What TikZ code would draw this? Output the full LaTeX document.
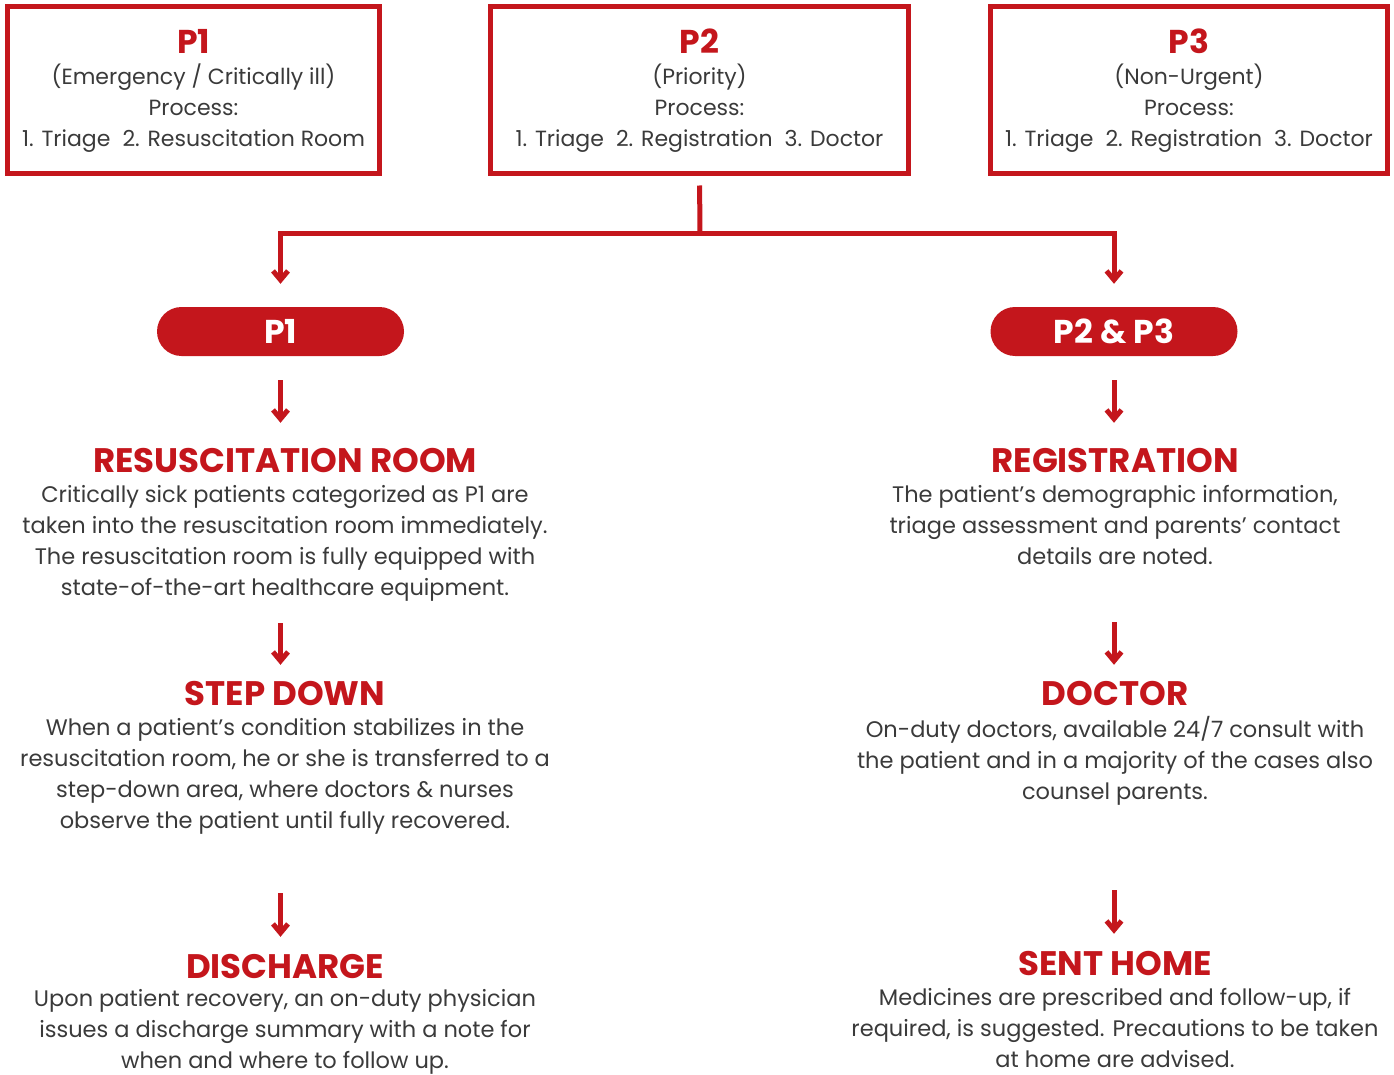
\documentclass[tikz,border=0pt]{standalone}
\usepackage{fontspec}
\setmainfont{Poppins}
\usetikzlibrary{arrows.meta}
\definecolor{brand}{HTML}{C4161C}
\definecolor{ink}{HTML}{3A3A3A}
\newcommand{\gap}{\hspace{0.55em}}
\newcommand{\lead}{\rule{0pt}{18pt}}
\newcommand{\boxtitle}[1]{{\bfseries\color{brand}\fontsize{33}{37}\selectfont #1}}
\begin{document}
\begin{tikzpicture}[x=1pt,y=-1pt,
  catbox/.style={draw=brand, line width=5pt, minimum width=#1, minimum height=167pt,
    inner sep=0pt, align=center, text=ink, font=\fontsize{22}{31}\selectfont},
  pill/.style={fill=brand, rounded corners=24.5pt, minimum width=247pt, minimum height=49pt,
    inner sep=0pt, text=white, font=\bfseries\fontsize{33}{33}\selectfont},
  head/.style={text=brand, font=\bfseries\fontsize{34}{34}\selectfont, inner sep=0pt,
    text height=23pt, text depth=0pt, anchor=base},
  body/.style={text=ink, align=center, font=\fontsize{22.5}{31}\selectfont, inner sep=0pt, anchor=north},
  link/.style={draw=brand, line width=5pt},
  flow/.style={draw=brand, line width=5pt, -{Straight Barb[length=9pt,width=15pt]}}
]
\useasboundingbox (0,0) rectangle (1394,1075);

% triage categories
\node[catbox=372pt] (p1) at (193.5,90.5) {\boxtitle{P1}\\(Emergency / Critically ill)\\Process:\\1. Triage\gap 2. Resuscitation Room};
\node[catbox=418pt] (p2) at (699.5,90.5) {\boxtitle{P2}\\(Priority)\\Process:\\1. Triage\gap 2. Registration\gap 3. Doctor};
\node[catbox=397pt] (p3) at (1189,90.5) {\boxtitle{P3}\\(Non-Urgent)\\Process:\\1. Triage\gap 2. Registration\gap 3. Doctor};

% pathway labels
\node[pill] (pl) at (280.5,331.5) {P1};
\node[pill] (pr) at (1114,331.5) {P2 \& P3};

% split from the category row
\coordinate (split) at (700,234);
\draw[link, shorten <=9pt] (p2.south) -- (split);
\draw[flow, shorten >=23pt] (split) -| (pl.north);
\draw[flow, shorten >=23pt] (split) -| (pr.north);

% left pathway
\node[head] (hres) at (285,472) {RESUSCITATION ROOM};
\node[body] (bres) at (285,484.5) {\lead Critically sick patients categorized as P1 are\\taken into the resuscitation room immediately.\\The resuscitation room is fully equipped with\\state-of-the-art healthcare equipment.};
\node[head] (hstep) at (285,705) {STEP DOWN};
\node[body] (bstep) at (285,717.5) {\lead When a patient’s condition stabilizes in the\\resuscitation room, he or she is transferred to a\\step-down area, where doctors \& nurses\\observe the patient until fully recovered.};
\node[head] (hdis) at (285,978) {DISCHARGE};
\node[body] (bdis) at (285,988.5) {\lead Upon patient recovery, an on-duty physician\\issues a discharge summary with a note for\\when and where to follow up.};

% right pathway
\node[head] (hreg) at (1115,472) {REGISTRATION};
\node[body] (breg) at (1115,484.5) {\lead The patient’s demographic information,\\triage assessment and parents’ contact\\details are noted.};
\node[head] (hdoc) at (1115,705) {DOCTOR};
\node[body] (bdoc) at (1115,716.5) {\lead On-duty doctors, available 24/7 consult with\\the patient and in a majority of the cases also\\counsel parents.};
\node[head] (hsent) at (1115,975) {SENT HOME};
\node[body] (bsent) at (1115,987.5) {\lead Medicines are prescribed and follow-up, if\\required, is suggested. Precautions to be taken\\at home are advised.};

% step arrows
\draw[flow, shorten <=24pt, shorten >=26pt] (pl.south) -- (pl.south |- hres.north);
\draw[flow, shorten <=151pt, shorten >=17pt] (hres.south -| pl.south) -- (hstep.north -| pl.south);
\draw[flow, shorten <=188pt, shorten >=18pt] (hstep.south -| pl.south) -- (hdis.north -| pl.south);
\draw[flow, shorten <=24pt, shorten >=26pt] (pr.south) -- (pr.south |- hreg.north);
\draw[flow, shorten <=150pt, shorten >=17pt] (hreg.south -| pr.south) -- (hdoc.north -| pr.south);
\draw[flow, shorten <=185pt, shorten >=18pt] (hdoc.south -| pr.south) -- (hsent.north -| pr.south);
\end{tikzpicture}
\end{document}
